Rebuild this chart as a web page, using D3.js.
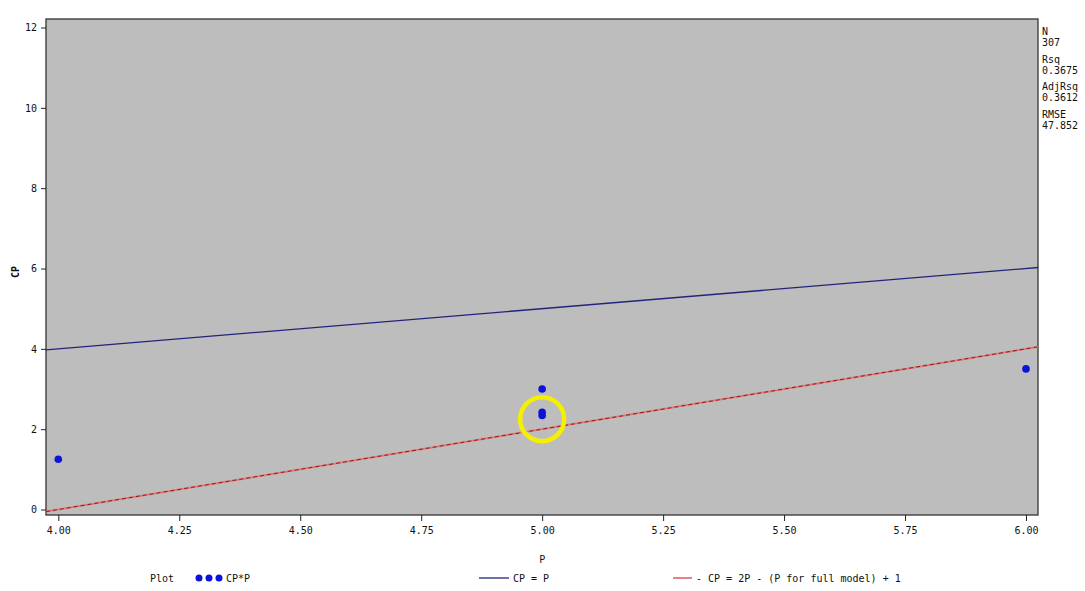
<!DOCTYPE html>
<html>
<head>
<meta charset="utf-8">
<script src="https://cdn.jsdelivr.net/npm/d3@7"></script>
<style>
  html, body { margin: 0; padding: 0; background: #ffffff; }
  text { font-family: "DejaVu Sans Mono", "Liberation Mono", monospace; font-size: 10px; fill: #111; }
</style>
</head>
<body>
<svg id="chart" width="1085" height="591"></svg>
<script>
// ---- data ----
const pValues  = [4, 5, 5, 5, 6];
const cpValues = [1.25, 3.0, 2.42, 2.34, 3.5];
const xTicks = [4.00, 4.25, 4.50, 4.75, 5.00, 5.25, 5.50, 5.75, 6.00];
const yTicks = [0, 2, 4, 6, 8, 10, 12];
const fullModelP = 9;
const highlightPoint = [5, 2.25];
const statLabels = ["N", "Rsq", "AdjRsq", "RMSE"];
const statValues = ["307", "0.3675", "0.3612", "47.852"];
const legendLabels = ["CP*P", "CP = P", "- CP = 2P - (P for full model) + 1"];

// ---- layout ----
const svg = d3.select("#chart");
const frame = { left: 46, right: 1038, top: 19, bottom: 515 };

const x = d3.scaleLinear().domain([4, 6]).range([58.3, 1026]);
const y = d3.scaleLinear().domain([0, 12]).range([509.5, 27.5]);

// plot background
svg.append("rect")
  .attr("x", frame.left).attr("y", frame.top)
  .attr("width", frame.right - frame.left).attr("height", frame.bottom - frame.top)
  .attr("fill", "#bdbdbd")
  .attr("stroke", "#333").attr("stroke-width", 1.3);

// axes
const xAxis = d3.axisBottom(x).tickValues(xTicks).tickFormat(d3.format(".2f")).tickSize(6).tickPadding(6);
const gx = svg.append("g").attr("transform", `translate(0,${frame.bottom})`).call(xAxis);
gx.select(".domain").remove();
gx.selectAll("line").attr("stroke", "#222");
gx.selectAll("text").attr("font-family", null).attr("font-size", null);

const yAxis = d3.axisLeft(y).tickValues(yTicks).tickFormat(d3.format("d")).tickSize(5).tickPadding(4);
const gy = svg.append("g").attr("transform", `translate(${frame.left},0)`).call(yAxis);
gy.select(".domain").remove();
gy.selectAll("line").attr("stroke", "#222");
gy.selectAll("text").attr("font-family", null).attr("font-size", null);

// axis labels
svg.append("text").attr("x", x(5)).attr("y", 563)
  .attr("text-anchor", "middle").text("P");
svg.append("text").attr("transform", `translate(19,${272}) rotate(-90)`)
  .attr("text-anchor", "middle").attr("font-weight", "bold").text("CP");

// reference lines across the frame
const pMin = x.invert(frame.left), pMax = x.invert(frame.right);
svg.append("clipPath").attr("id", "clip").append("rect")
  .attr("x", frame.left).attr("y", frame.top)
  .attr("width", frame.right - frame.left).attr("height", frame.bottom - frame.top);

const line = d3.line().x(d => x(d[0])).y(d => y(d[1]));
svg.append("path")
  .datum([[pMin, pMin], [pMax, pMax]])
  .attr("d", line).attr("fill", "none")
  .attr("stroke", "#23237e").attr("stroke-width", 1.3)
  .attr("clip-path", "url(#clip)");

const redData = [[pMin, 2 * pMin - fullModelP + 1], [pMax, 2 * pMax - fullModelP + 1]];
svg.append("path")
  .datum(redData)
  .attr("d", line).attr("fill", "none")
  .attr("stroke", "#e07a7a").attr("stroke-width", 2)
  .attr("clip-path", "url(#clip)");
svg.append("path")
  .datum(redData)
  .attr("d", line).attr("fill", "none")
  .attr("stroke", "#8a1c1c").attr("stroke-width", 1).attr("stroke-dasharray", "4,3")
  .attr("clip-path", "url(#clip)");

// points
svg.append("g").selectAll("circle")
  .data(pValues.map((p, i) => [p, cpValues[i]]))
  .join("circle")
  .attr("cx", d => x(d[0])).attr("cy", d => y(d[1]))
  .attr("r", 3.8).attr("fill", "#0a14d8");

// highlight circle
svg.append("circle")
  .attr("cx", x(highlightPoint[0])).attr("cy", y(highlightPoint[1]))
  .attr("r", 22).attr("fill", "none")
  .attr("stroke", "#f5f000").attr("stroke-width", 4.5);

// stats text
const statG = svg.append("g");
statLabels.forEach((lab, i) => {
  statG.append("text").attr("x", 1042).attr("y", 35 + i * 27.5).text(lab);
  statG.append("text").attr("x", 1042).attr("y", 46 + i * 27.5).text(statValues[i]);
});

// legend
const ly = 578;
svg.append("text").attr("x", 150).attr("y", ly + 4).text("Plot");
[199, 209, 219].forEach(cx => {
  svg.append("circle").attr("cx", cx).attr("cy", ly).attr("r", 3.5).attr("fill", "#0a14d8");
});
svg.append("text").attr("x", 226).attr("y", ly + 4).text(legendLabels[0]);

svg.append("line").attr("x1", 479).attr("x2", 509).attr("y1", ly).attr("y2", ly)
  .attr("stroke", "#23237e").attr("stroke-width", 1.3);
svg.append("text").attr("x", 513).attr("y", ly + 4).text(legendLabels[1]);

svg.append("line").attr("x1", 673).attr("x2", 692).attr("y1", ly).attr("y2", ly)
  .attr("stroke", "#d84040").attr("stroke-width", 1.3);
svg.append("text").attr("x", 696).attr("y", ly + 4).text(legendLabels[2]);
</script>
</body>
</html>
